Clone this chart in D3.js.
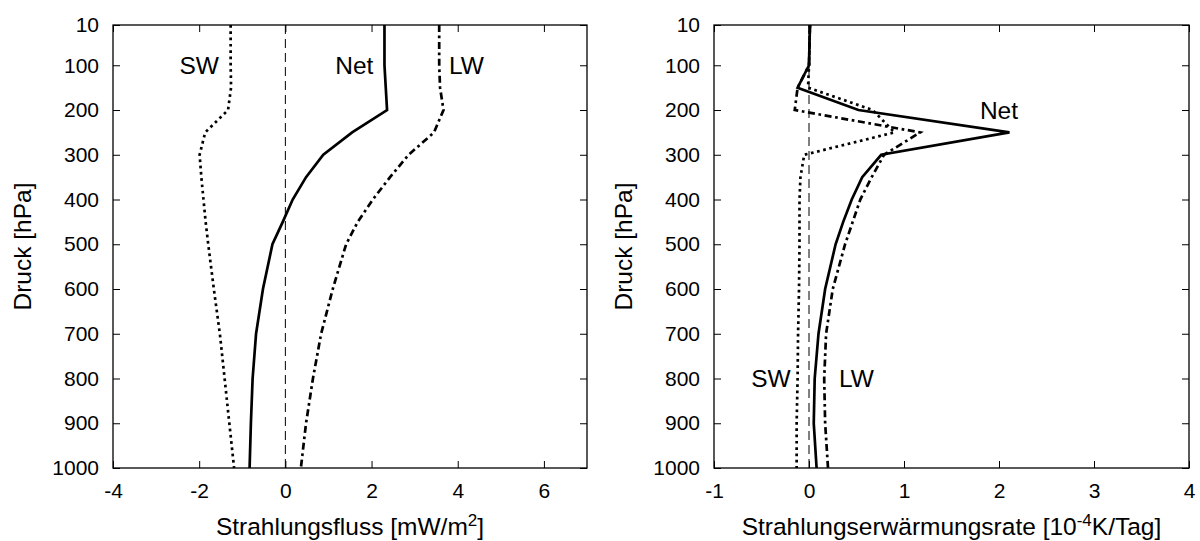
<!DOCTYPE html>
<html>
<head>
<meta charset="utf-8">
<script src="https://cdn.jsdelivr.net/npm/d3@7"></script>
<style>
  html, body { margin: 0; padding: 0; background: #fff; }
  svg { display: block; font-family: "Liberation Sans", Arial, Helvetica, sans-serif; }
</style>
</head>
<body>
<svg id="chart" width="1200" height="541"></svg>
<script>
// Pressure levels of the profiles (hPa)
const levels = [10, 100, 150, 200, 250, 300, 350, 400, 450, 500, 600, 700, 800, 900, 1000];

// Radiative flux (mW/m^2)
const fluxSW  = [-1.27, -1.27, -1.26, -1.33, -1.86, -1.99, -1.95, -1.90, -1.85, -1.79, -1.66, -1.52, -1.41, -1.30, -1.19];
const fluxLW  = [3.57, 3.57, 3.59, 3.67, 3.45, 2.86, 2.43, 2.03, 1.68, 1.41, 1.10, 0.83, 0.64, 0.48, 0.36];
const fluxNet = [2.30, 2.30, 2.33, 2.36, 1.55, 0.88, 0.48, 0.17, -0.06, -0.30, -0.52, -0.68, -0.76, -0.80, -0.83];

// Radiative heating rate (10^-4 K/day)
const heatSW  = [0.01, 0.00, -0.01, 0.67, 0.90, -0.05, -0.09, -0.10, -0.10, -0.10, -0.105, -0.115, -0.12, -0.13, -0.13];
const heatLW  = [0.01, 0.00, -0.12, -0.15, 1.17, 0.79, 0.66, 0.54, 0.46, 0.38, 0.25, 0.18, 0.16, 0.17, 0.20];
const heatNet = [0.01, 0.00, -0.12, 0.52, 2.11, 0.76, 0.56, 0.45, 0.36, 0.28, 0.17, 0.10, 0.06, 0.05, 0.08];

// Axis ticks
const pressureTicks = [10, 100, 200, 300, 400, 500, 600, 700, 800, 900, 1000];
const fluxTicks = [-4, -2, 0, 2, 4, 6];
const heatTicks = [-1, 0, 1, 2, 3, 4];

// Curve labels: [text, x value, pressure]
const fluxLabels = [["SW", -2.0, 100], ["Net", 1.6, 100], ["LW", 4.2, 100]];
const heatLabels = [["Net", 2.0, 200], ["SW", -0.4, 800], ["LW", 0.5, 800]];

const svg = d3.select("#chart");
const plotTop = 25, plotBottom = 468;
const TICK_FS = 21;   // tick numbers
const TEXT_FS = 24.5; // axis titles and curve labels

const styles = {
  SW:  { width: 2.7, dash: "2.7,3.6" },
  LW:  { width: 2.7, dash: "7,3.6,2.7,3.6" },
  Net: { width: 2.7, dash: null }
};

const fmt = d => d < 0 ? "-" + Math.abs(d) : String(d);

function panel(opts) {
  const g = svg.append("g");
  const x = d3.scaleLinear().domain(opts.xDomain).range([opts.left, opts.right]);
  const y = d3.scaleLinear().domain([10, 1000]).range([plotTop, plotBottom]);

  // zero reference line
  g.append("line")
    .attr("x1", x(0)).attr("x2", x(0)).attr("y1", plotTop).attr("y2", plotBottom)
    .attr("stroke", "#000").attr("stroke-width", 1)
    .attr("stroke-dasharray", "9,5");

  // axes with inward ticks, mirrored on top and right
  g.append("g").attr("transform", `translate(${opts.left},0)`)
    .call(d3.axisLeft(y).tickValues(pressureTicks).tickSize(-7).tickPadding(14).tickFormat(fmt));
  g.append("g").attr("transform", `translate(${opts.right},0)`)
    .call(d3.axisRight(y).tickValues(pressureTicks).tickSize(-7).tickFormat(""));
  g.append("g").attr("transform", `translate(0,${plotBottom})`)
    .call(d3.axisBottom(x).tickValues(opts.ticks).tickSize(-7).tickPadding(15).tickFormat(fmt));
  g.append("g").attr("transform", `translate(0,${plotTop})`)
    .call(d3.axisTop(x).tickValues(opts.ticks).tickSize(-7).tickFormat(""));

  g.selectAll(".domain").remove();
  g.selectAll(".tick line").attr("stroke", "#000").attr("stroke-width", 1);
  g.selectAll(".tick text").attr("font-size", TICK_FS).attr("fill", "#000")
    .attr("font-family", "Liberation Sans, Arial, sans-serif");

  // frame
  g.append("rect")
    .attr("x", opts.left).attr("y", plotTop)
    .attr("width", opts.right - opts.left).attr("height", plotBottom - plotTop)
    .attr("fill", "none").attr("stroke", "#000").attr("stroke-width", 1.3);

  // profiles
  const line = d3.line().x(d => x(d[0])).y(d => y(d[1]));
  opts.series.forEach(([key, vals]) => {
    const st = styles[key];
    g.append("path")
      .datum(vals.map((v, i) => [v, levels[i]]))
      .attr("d", line)
      .attr("fill", "none")
      .attr("stroke", "#000")
      .attr("stroke-width", st.width)
      .attr("stroke-linejoin", "miter")
      .attr("stroke-dasharray", st.dash);
  });

  // curve labels
  opts.labels.forEach(([t, xv, p]) => {
    g.append("text")
      .attr("x", x(xv)).attr("y", y(p))
      .attr("dy", "0.36em")
      .attr("text-anchor", "middle")
      .attr("font-size", TEXT_FS)
      .text(t);
  });

  // y title
  g.append("text")
    .attr("transform", `translate(${opts.left - 82},${(plotTop + plotBottom) / 2}) rotate(-90)`)
    .attr("text-anchor", "middle")
    .attr("font-size", TEXT_FS)
    .text("Druck [hPa]");

  // x title with superscript
  const xt = g.append("text")
    .attr("x", (opts.left + opts.right) / 2).attr("y", 535)
    .attr("text-anchor", "middle")
    .attr("font-size", TEXT_FS);
  opts.xTitle.forEach(([s, sup]) => {
    const ts = xt.append("tspan").text(s);
    if (sup) ts.attr("font-size", 17).attr("baseline-shift", "55%");
  });
}

panel({
  left: 113, right: 587, xDomain: [-4, 7], ticks: fluxTicks,
  series: [["SW", fluxSW], ["LW", fluxLW], ["Net", fluxNet]],
  labels: fluxLabels,
  xTitle: [["Strahlungsfluss [mW/m", false], ["2", true], ["]", false]]
});

panel({
  left: 714, right: 1189, xDomain: [-1, 4], ticks: heatTicks,
  series: [["SW", heatSW], ["LW", heatLW], ["Net", heatNet]],
  labels: heatLabels,
  xTitle: [["Strahlungserwärmungsrate [10", false], ["-4", true], ["K/Tag]", false]]
});
</script>
</body>
</html>
